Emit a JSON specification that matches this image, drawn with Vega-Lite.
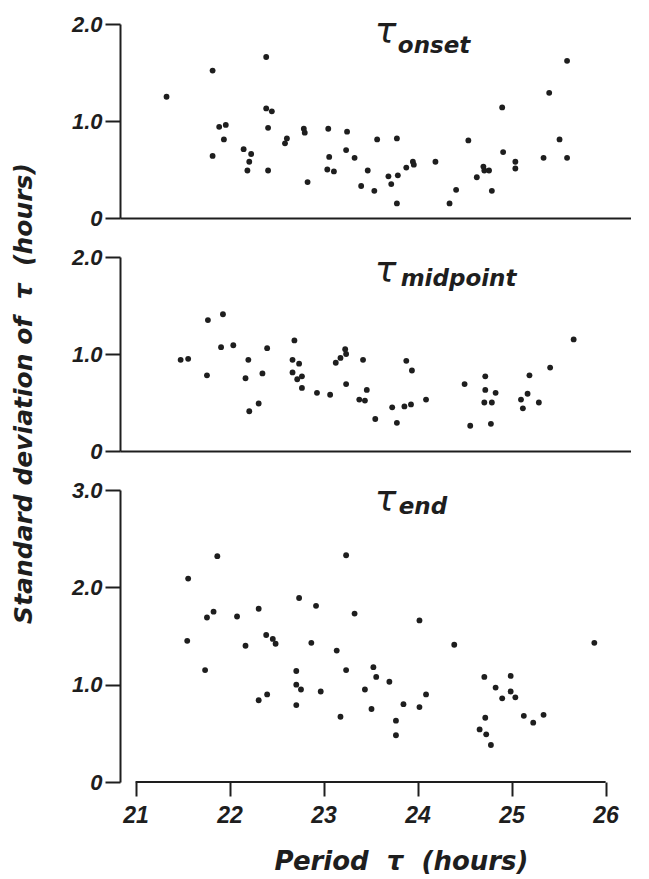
{
  "$schema": "https://vega.github.io/schema/vega-lite/v6.json",
  "background": "white",
  "padding": {"left": 10, "top": 13, "right": 0, "bottom": 0},
  "spacing": 39,
  "bounds": "flush",
  "datasets": {
    "onset": [
      {"period": 21.33, "sd": 1.25}, {"period": 21.82, "sd": 1.52}, {"period": 21.82, "sd": 0.64}, {"period": 21.89, "sd": 0.94},
      {"period": 21.96, "sd": 0.96}, {"period": 21.94, "sd": 0.81}, {"period": 22.15, "sd": 0.71}, {"period": 22.23, "sd": 0.66},
      {"period": 22.21, "sd": 0.58}, {"period": 22.19, "sd": 0.49}, {"period": 22.39, "sd": 1.66}, {"period": 22.39, "sd": 1.13},
      {"period": 22.45, "sd": 1.10}, {"period": 22.41, "sd": 0.93}, {"period": 22.41, "sd": 0.49}, {"period": 22.59, "sd": 0.77},
      {"period": 22.61, "sd": 0.82}, {"period": 22.79, "sd": 0.92}, {"period": 22.80, "sd": 0.88}, {"period": 22.83, "sd": 0.37},
      {"period": 23.05, "sd": 0.92}, {"period": 23.06, "sd": 0.63}, {"period": 23.04, "sd": 0.50}, {"period": 23.11, "sd": 0.48},
      {"period": 23.25, "sd": 0.89}, {"period": 23.24, "sd": 0.70}, {"period": 23.33, "sd": 0.62}, {"period": 23.47, "sd": 0.49},
      {"period": 23.40, "sd": 0.33}, {"period": 23.54, "sd": 0.28}, {"period": 23.57, "sd": 0.81}, {"period": 23.78, "sd": 0.82},
      {"period": 23.69, "sd": 0.43}, {"period": 23.79, "sd": 0.44}, {"period": 23.72, "sd": 0.35}, {"period": 23.78, "sd": 0.15},
      {"period": 23.88, "sd": 0.52}, {"period": 23.95, "sd": 0.58}, {"period": 23.96, "sd": 0.55}, {"period": 24.19, "sd": 0.58},
      {"period": 24.34, "sd": 0.15}, {"period": 24.41, "sd": 0.29}, {"period": 24.54, "sd": 0.80}, {"period": 24.63, "sd": 0.42},
      {"period": 24.70, "sd": 0.53}, {"period": 24.71, "sd": 0.49}, {"period": 24.76, "sd": 0.49}, {"period": 24.79, "sd": 0.28},
      {"period": 24.90, "sd": 1.14}, {"period": 24.91, "sd": 0.68}, {"period": 25.04, "sd": 0.58}, {"period": 25.04, "sd": 0.51},
      {"period": 25.34, "sd": 0.62}, {"period": 25.40, "sd": 1.29}, {"period": 25.51, "sd": 0.81}, {"period": 25.59, "sd": 1.62},
      {"period": 25.59, "sd": 0.62}
    ],
    "midpoint": [
      {"period": 21.48, "sd": 0.94}, {"period": 21.56, "sd": 0.95}, {"period": 21.77, "sd": 1.35}, {"period": 21.76, "sd": 0.78},
      {"period": 21.93, "sd": 1.41}, {"period": 21.91, "sd": 1.07}, {"period": 22.04, "sd": 1.09}, {"period": 22.20, "sd": 0.94},
      {"period": 22.17, "sd": 0.75}, {"period": 22.21, "sd": 0.41}, {"period": 22.31, "sd": 0.49}, {"period": 22.35, "sd": 0.80},
      {"period": 22.40, "sd": 1.06}, {"period": 22.69, "sd": 1.14}, {"period": 22.67, "sd": 0.94}, {"period": 22.74, "sd": 0.90},
      {"period": 22.67, "sd": 0.81}, {"period": 22.77, "sd": 0.77}, {"period": 22.72, "sd": 0.74}, {"period": 22.77, "sd": 0.65},
      {"period": 22.93, "sd": 0.60}, {"period": 23.07, "sd": 0.58}, {"period": 23.13, "sd": 0.91}, {"period": 23.18, "sd": 0.96},
      {"period": 23.23, "sd": 1.05}, {"period": 23.24, "sd": 1.00}, {"period": 23.24, "sd": 0.69}, {"period": 23.42, "sd": 0.94},
      {"period": 23.46, "sd": 0.63}, {"period": 23.38, "sd": 0.53}, {"period": 23.44, "sd": 0.52}, {"period": 23.55, "sd": 0.33},
      {"period": 23.73, "sd": 0.45}, {"period": 23.78, "sd": 0.29}, {"period": 23.86, "sd": 0.46}, {"period": 23.93, "sd": 0.48},
      {"period": 23.88, "sd": 0.93}, {"period": 23.94, "sd": 0.83}, {"period": 24.09, "sd": 0.53}, {"period": 24.50, "sd": 0.69},
      {"period": 24.56, "sd": 0.26}, {"period": 24.72, "sd": 0.77}, {"period": 24.72, "sd": 0.63}, {"period": 24.71, "sd": 0.50},
      {"period": 24.79, "sd": 0.50}, {"period": 24.83, "sd": 0.60}, {"period": 24.78, "sd": 0.28}, {"period": 25.10, "sd": 0.53},
      {"period": 25.12, "sd": 0.44}, {"period": 25.17, "sd": 0.59}, {"period": 25.19, "sd": 0.78}, {"period": 25.29, "sd": 0.50},
      {"period": 25.41, "sd": 0.86}, {"period": 25.66, "sd": 1.15}
    ],
    "end": [
      {"period": 21.56, "sd": 2.09}, {"period": 21.55, "sd": 1.45}, {"period": 21.87, "sd": 2.32}, {"period": 21.83, "sd": 1.75},
      {"period": 21.76, "sd": 1.69}, {"period": 21.74, "sd": 1.15}, {"period": 22.08, "sd": 1.70}, {"period": 22.17, "sd": 1.40},
      {"period": 22.31, "sd": 1.78}, {"period": 22.39, "sd": 1.51}, {"period": 22.46, "sd": 1.47}, {"period": 22.49, "sd": 1.42},
      {"period": 22.31, "sd": 0.84}, {"period": 22.40, "sd": 0.90}, {"period": 22.74, "sd": 1.89}, {"period": 22.71, "sd": 1.14},
      {"period": 22.71, "sd": 1.00}, {"period": 22.76, "sd": 0.95}, {"period": 22.71, "sd": 0.79}, {"period": 22.92, "sd": 1.81},
      {"period": 22.87, "sd": 1.43}, {"period": 22.97, "sd": 0.93}, {"period": 23.24, "sd": 2.33}, {"period": 23.33, "sd": 1.73},
      {"period": 23.14, "sd": 1.35}, {"period": 23.24, "sd": 1.15}, {"period": 23.18, "sd": 0.67}, {"period": 23.44, "sd": 0.95},
      {"period": 23.53, "sd": 1.18}, {"period": 23.56, "sd": 1.08}, {"period": 23.51, "sd": 0.75}, {"period": 23.70, "sd": 1.03},
      {"period": 23.77, "sd": 0.63}, {"period": 23.77, "sd": 0.48}, {"period": 23.85, "sd": 0.80}, {"period": 24.02, "sd": 1.66},
      {"period": 24.02, "sd": 0.77}, {"period": 24.09, "sd": 0.90}, {"period": 24.39, "sd": 1.41}, {"period": 24.71, "sd": 1.08},
      {"period": 24.72, "sd": 0.66}, {"period": 24.66, "sd": 0.54}, {"period": 24.73, "sd": 0.49}, {"period": 24.78, "sd": 0.38},
      {"period": 24.83, "sd": 0.97}, {"period": 24.90, "sd": 0.86}, {"period": 24.99, "sd": 1.09}, {"period": 24.99, "sd": 0.93},
      {"period": 25.04, "sd": 0.87}, {"period": 25.13, "sd": 0.68}, {"period": 25.23, "sd": 0.61}, {"period": 25.34, "sd": 0.69},
      {"period": 25.88, "sd": 1.43}
    ],
    "one": [{}]
  },
  "vconcat": [
    {
      "width": 511,
      "height": 194,
      "layer": [
        {
          "data": {"name": "onset"},
          "mark": {"type": "circle", "size": 34, "color": "#1e1e1e", "opacity": 1},
          "encoding": {
            "x": {"field": "period", "type": "quantitative", "scale": {"domain": [20.835, 26.27], "nice": false, "zero": false},
              "axis": {"title": null, "ticks": false, "labels": false, "domain": true}},
            "y": {"field": "sd", "type": "quantitative", "scale": {"domain": [0, 2], "nice": false},
              "axis": {"title": null, "values": [0, 1, 2], "tickSize": 15, "labelPadding": 3,
                "labelExpr": "datum.value === 0 ? '0' : format(datum.value, '.1f')"}}
          }
        },
        {
          "data": {"name": "one"},
          "mark": {"type": "text", "font": "DejaVu Sans", "fontSize": 36, "fontStyle": "italic", "align": "center", "baseline": "alphabetic", "color": "#1e1e1e"},
          "encoding": {"x": {"datum": 23.66, "type": "quantitative"}, "y": {"datum": 1.8, "type": "quantitative"}, "text": {"value": "τ"}}
        },
        {
          "data": {"name": "one"},
          "mark": {"type": "text", "font": "DejaVu Sans", "fontSize": 23, "fontStyle": "italic", "fontWeight": "bold", "align": "left", "baseline": "alphabetic", "color": "#1e1e1e"},
          "encoding": {"x": {"datum": 23.79, "type": "quantitative"}, "y": {"datum": 1.7, "type": "quantitative"}, "text": {"value": "onset"}}
        }
      ]
    },
    {
      "width": 511,
      "height": 194,
      "layer": [
        {
          "data": {"name": "midpoint"},
          "mark": {"type": "circle", "size": 34, "color": "#1e1e1e", "opacity": 1},
          "encoding": {
            "x": {"field": "period", "type": "quantitative", "scale": {"domain": [20.835, 26.27], "nice": false, "zero": false},
              "axis": {"title": null, "ticks": false, "labels": false, "domain": true}},
            "y": {"field": "sd", "type": "quantitative", "scale": {"domain": [0, 2], "nice": false},
              "axis": {"title": "Standard deviation of\u00a0\u00a0τ\u00a0\u00a0(hours)", "titleX": -84, "titleY": 136, "titleAngle": 270,
                "titleAlign": "center", "titleBaseline": "bottom", "titleFontSize": 25,
                "values": [0, 1, 2], "tickSize": 15, "labelPadding": 3,
                "labelExpr": "datum.value === 0 ? '0' : format(datum.value, '.1f')"}}
          }
        },
        {
          "data": {"name": "one"},
          "mark": {"type": "text", "font": "DejaVu Sans", "fontSize": 36, "fontStyle": "italic", "align": "center", "baseline": "alphabetic", "color": "#1e1e1e"},
          "encoding": {"x": {"datum": 23.66, "type": "quantitative"}, "y": {"datum": 1.74, "type": "quantitative"}, "text": {"value": "τ"}}
        },
        {
          "data": {"name": "one"},
          "mark": {"type": "text", "font": "DejaVu Sans", "fontSize": 23, "fontStyle": "italic", "fontWeight": "bold", "align": "left", "baseline": "alphabetic", "color": "#1e1e1e"},
          "encoding": {"x": {"datum": 23.82, "type": "quantitative"}, "y": {"datum": 1.7, "type": "quantitative"}, "text": {"value": "midpoint"}}
        }
      ]
    },
    {
      "width": 511,
      "height": 292,
      "layer": [
        {
          "data": {"name": "end"},
          "mark": {"type": "circle", "size": 34, "color": "#1e1e1e", "opacity": 1},
          "encoding": {
            "x": {"field": "period", "type": "quantitative", "scale": {"domain": [20.835, 26.27], "nice": false, "zero": false},
              "axis": {"title": "Period\u00a0\u00a0τ\u00a0\u00a0(hours)", "titleX": 281, "titleFontSize": 26, "titlePadding": 21,
                "values": [21, 22, 23, 24, 25, 26], "format": "d", "domain": false, "tickSize": 14, "labelPadding": 8, "labelFontSize": 23}},
            "y": {"field": "sd", "type": "quantitative", "scale": {"domain": [0, 3], "nice": false},
              "axis": {"title": null, "values": [0, 1, 2, 3], "tickSize": 15, "labelPadding": 3,
                "labelExpr": "datum.value === 0 ? '0' : format(datum.value, '.1f')"}}
          }
        },
        {
          "data": {"name": "one"},
          "mark": {"type": "rule", "color": "#1e1e1e", "strokeWidth": 2},
          "encoding": {"x": {"datum": 21, "type": "quantitative"}, "x2": {"datum": 26}, "y": {"datum": 0, "type": "quantitative"}}
        },
        {
          "data": {"name": "one"},
          "mark": {"type": "text", "font": "DejaVu Sans", "fontSize": 36, "fontStyle": "italic", "align": "center", "baseline": "alphabetic", "color": "#1e1e1e"},
          "encoding": {"x": {"datum": 23.66, "type": "quantitative"}, "y": {"datum": 2.78, "type": "quantitative"}, "text": {"value": "τ"}}
        },
        {
          "data": {"name": "one"},
          "mark": {"type": "text", "font": "DejaVu Sans", "fontSize": 23, "fontStyle": "italic", "fontWeight": "bold", "align": "left", "baseline": "alphabetic", "color": "#1e1e1e"},
          "encoding": {"x": {"datum": 23.8, "type": "quantitative"}, "y": {"datum": 2.75, "type": "quantitative"}, "text": {"value": "end"}}
        }
      ]
    }
  ],
  "config": {
    "view": {"stroke": null},
    "axis": {
      "grid": false,
      "domainColor": "#1e1e1e", "domainWidth": 2,
      "tickColor": "#1e1e1e", "tickWidth": 2,
      "labelFont": "Liberation Sans", "labelFontStyle": "italic", "labelFontWeight": "bold", "labelFontSize": 22, "labelColor": "#1e1e1e",
      "titleFont": "DejaVu Sans", "titleFontStyle": "italic", "titleFontWeight": "bold", "titleColor": "#1e1e1e"
    }
  }
}
